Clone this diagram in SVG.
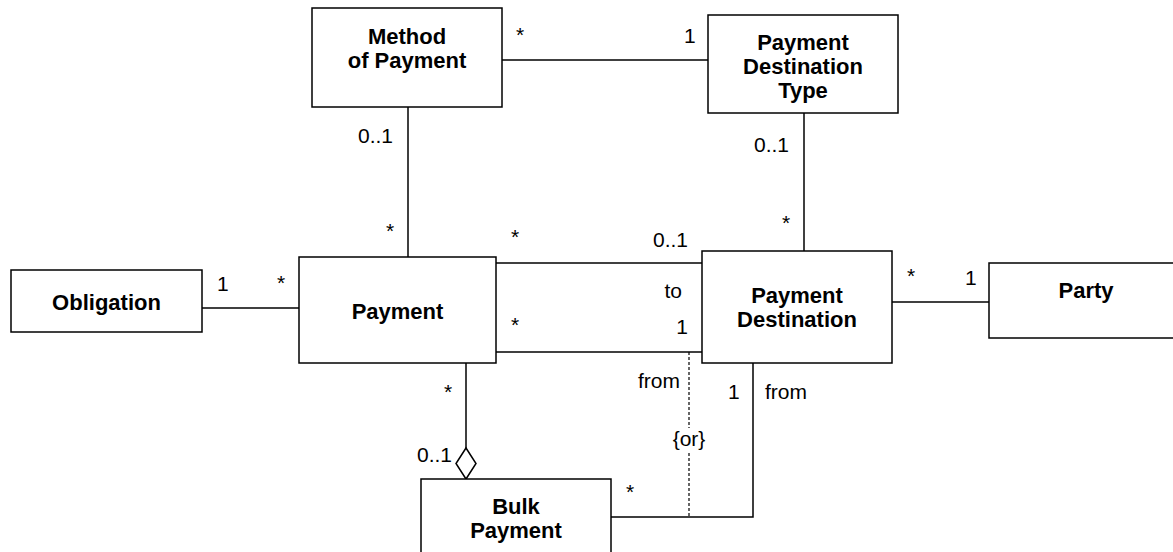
<svg xmlns="http://www.w3.org/2000/svg" width="1173" height="552" viewBox="0 0 1173 552">
<style>
.box{fill:#fff;stroke:#000;stroke-width:1.5}
.ln{fill:none;stroke:#000;stroke-width:1.5}
.dash{fill:none;stroke:#000;stroke-width:1.2;stroke-dasharray:3,2}
.nt{font-family:"Liberation Sans",Arial,sans-serif;font-weight:bold;font-size:22px;text-anchor:middle;fill:#000}
.lb{font-family:"Liberation Sans",Arial,sans-serif;font-size:21px;fill:#000}
.r{text-anchor:end}
.m{text-anchor:middle}
</style>
<rect width="1173" height="552" fill="#fff"/>
<g id="connectors">
<line class="ln" x1="502" y1="60" x2="708" y2="60"/>
<line class="ln" x1="408" y1="107" x2="408" y2="257"/>
<line class="ln" x1="804" y1="113" x2="804" y2="251"/>
<line class="ln" x1="202" y1="308" x2="299" y2="308"/>
<line class="ln" x1="496" y1="263" x2="702" y2="263"/>
<line class="ln" x1="496" y1="352" x2="702" y2="352"/>
<line class="ln" x1="892" y1="302" x2="989" y2="302"/>
<line class="ln" x1="466" y1="363" x2="466" y2="448"/>
<polygon class="box" points="466,448 476,463.5 466,479 456,463.5"/>
<polyline class="ln" points="611,517 753,517 753,363"/>
<line class="dash" x1="689" y1="352" x2="689" y2="428"/>
<line class="dash" x1="689" y1="453" x2="689" y2="517"/>
<text class="lb" x="516" y="42">*</text>
<text class="lb" x="684" y="43">1</text>
<text class="lb r" x="393" y="143">0..1</text>
<text class="lb" x="386" y="238">*</text>
<text class="lb" x="511" y="244">*</text>
<text class="lb r" x="688" y="247">0..1</text>
<text class="lb r" x="789" y="152">0..1</text>
<text class="lb" x="782" y="230">*</text>
<text class="lb" x="217" y="291">1</text>
<text class="lb" x="277" y="290">*</text>
<text class="lb r" x="682" y="298">to</text>
<text class="lb" x="511" y="332">*</text>
<text class="lb r" x="688" y="334">1</text>
<text class="lb" x="444" y="399">*</text>
<text class="lb r" x="452" y="462">0..1</text>
<text class="lb r" x="680" y="388">from</text>
<text class="lb m" x="689" y="446">{or}</text>
<text class="lb" x="728" y="399">1</text>
<text class="lb" x="765" y="399">from</text>
<text class="lb" x="626" y="499">*</text>
<text class="lb" x="907" y="283">*</text>
<text class="lb" x="965" y="285">1</text>
</g>
<g id="method-of-payment">
<rect class="box" x="312" y="8" width="190" height="99"/>
<text class="nt" x="407" y="44">Method</text>
<text class="nt" x="407" y="68">of Payment</text>
</g>
<g id="payment-destination-type">
<rect class="box" x="708" y="15" width="190" height="98"/>
<text class="nt" x="803" y="50">Payment</text>
<text class="nt" x="803" y="74">Destination</text>
<text class="nt" x="803" y="98">Type</text>
</g>
<g id="obligation">
<rect class="box" x="11" y="270" width="191" height="62"/>
<text class="nt" x="106.5" y="310">Obligation</text>
</g>
<g id="payment">
<rect class="box" x="299" y="257" width="197" height="106"/>
<text class="nt" x="397.5" y="319">Payment</text>
</g>
<g id="payment-destination">
<rect class="box" x="702" y="251" width="190" height="112"/>
<text class="nt" x="797" y="303">Payment</text>
<text class="nt" x="797" y="327">Destination</text>
</g>
<g id="party">
<rect class="box" x="989" y="263" width="195" height="75"/>
<text class="nt" x="1086" y="298">Party</text>
</g>
<g id="bulk-payment">
<rect class="box" x="421" y="479" width="190" height="90"/>
<text class="nt" x="516" y="514">Bulk</text>
<text class="nt" x="516" y="538">Payment</text>
</g>
</svg>
